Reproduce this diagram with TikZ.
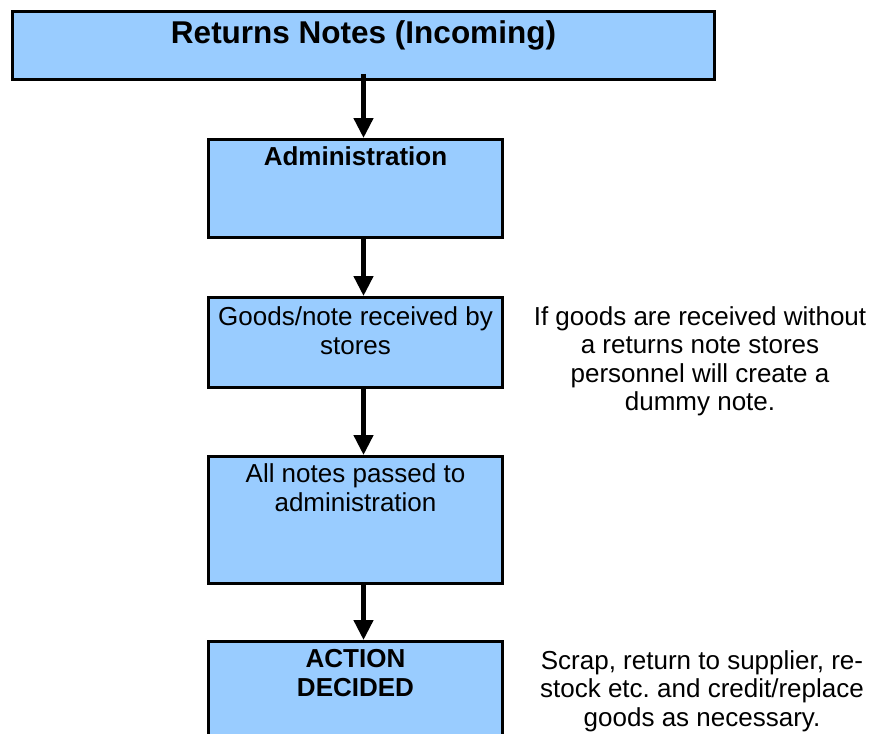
\documentclass[tikz,border=0pt]{standalone}
\usepackage{fontspec}
\setmainfont{Liberation Sans}
\usetikzlibrary{arrows.meta}
\definecolor{boxblue}{HTML}{99CCFF}
\begin{document}
\begin{tikzpicture}[x=1pt,y=1pt]
            \tikzstyle{box} = [rectangle, draw, line width=3pt, fill=boxblue, minimum width=294pt, inner sep=0pt]
            \tikzstyle{boxtext} = [align=center, inner sep=0pt, anchor=base, font=\fontsize{26}{28.5}\selectfont]
            \tikzstyle{note} = [align=center, inner sep=0pt, anchor=base, font=\fontsize{26}{28.5}\selectfont]
            \tikzstyle{arrow} = [line width=4.5pt, -{Triangle[width=19pt,length=20pt]}]

            \useasboundingbox (0,0) rectangle (882,-733);
            \clip (0,0) rectangle (882,-733);

            \node (title) [box, minimum width=702pt, minimum height=68pt] at (363.5,-45.5) {};
            \node (admin) [box, minimum height=98pt] at (355.5,-188.5) {};
            \node (goods) [box, minimum height=90pt] at (355.5,-342.5) {};
            \node (notes) [box, minimum height=127pt] at (355.5,-520) {};
            \node (action) [box, minimum height=130pt] at (355.5,-706.5) {};

            \draw [arrow] ([yshift=7pt]title.south) -- (title.south |- admin.north);
            \draw [arrow] (title.south |- admin.south) -- (title.south |- goods.north);
            \draw [arrow] (title.south |- goods.south) -- (title.south |- notes.north);
            \draw [arrow] (title.south |- notes.south) -- (title.south |- action.north);

            % base is the last line of a node
            \node (titletext) [boxtext, font=\bfseries\fontsize{31.5}{34}\selectfont] at ([yshift=-33.5pt]title.north) {Returns Notes (Incoming)};
            \node (admintext) [boxtext, font=\bfseries\fontsize{26}{28.5}\selectfont] at ([yshift=-27.5pt]admin.north) {Administration};
            \node (goodstext) [boxtext] at ([yshift=-58pt]goods.north) {Goods/note received by\\stores};
            \node (notestext) [boxtext] at ([yshift=-56pt]notes.north) {All notes passed to\\administration};
            \node (actiontext) [boxtext, font=\bfseries\fontsize{26}{28.5}\selectfont] at ([yshift=-56pt]action.north) {ACTION\\DECIDED};

            \node (goodsnote) [note] at (700,-410.5) {If goods are received without\\a returns note stores\\personnel will create a\\dummy note.};
            \node (actionnote) [note] at (702,-726) {Scrap, return to supplier, re-\\stock etc.\ and credit/replace\\goods as necessary.};
        \end{tikzpicture}
\end{document}
